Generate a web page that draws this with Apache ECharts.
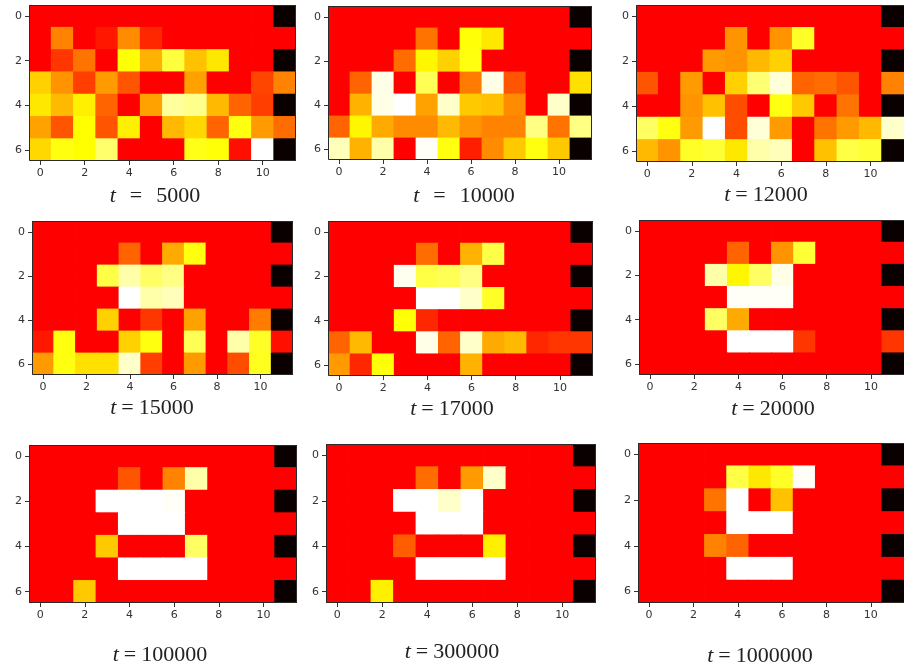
<!DOCTYPE html>
<html>
<head>
<meta charset="utf-8">
<script src="https://cdn.jsdelivr.net/npm/echarts@6/dist/echarts.min.js"></script>
<style>
  html, body { margin: 0; padding: 0; background: #fff; overflow: hidden; }
  #chart { width: 904px; height: 671px; }
</style>
</head>
<body>
<div id="chart"></div>
<script>
// Snapshots of a 7 x 12 lattice, values on a 0..1 "hot" scale
// (0 = black, ~0.33 = red, ~0.67 = yellow, 1 = white).
const steps = [5000, 10000, 12000, 15000, 17000, 20000, 100000, 300000, 1000000];
const rowLabels = ['0', '1', '2', '3', '4', '5', '6'];
const colLabels = ['0', '1', '2', '3', '4', '5', '6', '7', '8', '9', '10', '11'];

const t5000 = [
  [.33, .33, .33, .33, .33, .33, .33, .33, .33, .33, .33, 0],
  [.33, .50, .33, .36, .51, .38, .33, .33, .33, .33, .33, .33],
  [.33, .40, .48, .33, .67, .56, .74, .58, .63, .33, .33, 0],
  [.60, .52, .41, .53, .44, .33, .33, .54, .33, .33, .42, .50],
  [.63, .57, .64, .46, .33, .54, .86, .84, .57, .46, .41, 0],
  [.54, .44, .66, .44, .64, .33, .57, .61, .46, .68, .53, .47],
  [.61, .68, .66, .80, .33, .33, .33, .69, .67, .35, 1, 0]
];
const t10000 = [
  [.33, .33, .33, .33, .33, .33, .33, .33, .33, .33, .33, 0],
  [.33, .33, .33, .33, .48, .33, .67, .63, .33, .33, .33, .33],
  [.33, .33, .33, .47, .65, .60, .68, .33, .33, .33, .33, 0],
  [.33, .46, .96, .33, .77, .33, .49, .96, .44, .33, .33, .62],
  [.33, .56, .96, 1, .54, .92, .59, .58, .51, .33, .92, 0],
  [.46, .65, .55, .51, .51, .57, .52, .50, .50, .83, .48, .83],
  [.90, .56, .88, .33, .98, .68, .37, .51, .59, .68, .59, 0]
];
const t12000 = [
  [.33, .33, .33, .33, .33, .33, .33, .33, .33, .33, .33, 0],
  [.33, .33, .33, .33, .52, .33, .52, .71, .33, .33, .33, .33],
  [.33, .33, .33, .53, .52, .57, .60, .33, .33, .33, .33, 0],
  [.44, .33, .53, .33, .60, .81, .94, .46, .47, .44, .33, .50],
  [.33, .33, .52, .58, .43, .33, .68, .59, .33, .48, .33, 0],
  [.79, .68, .53, 1, .43, .94, .53, .33, .48, .53, .57, .92],
  [.57, .52, .71, .73, .63, .88, .90, .33, .58, .75, .73, 0]
];
const t15000 = [
  [.33, .33, .33, .33, .33, .33, .33, .33, .33, .33, .33, 0],
  [.33, .33, .33, .33, .46, .33, .55, .68, .33, .33, .33, .33],
  [.33, .33, .33, .75, .88, .79, .83, .33, .33, .33, .33, 0],
  [.33, .33, .33, .33, 1, .88, .90, .33, .33, .33, .33, .33],
  [.33, .33, .33, .60, .33, .40, .33, .54, .33, .33, .49, 0],
  [.36, .68, .33, .33, .60, .68, .33, .77, .33, .88, .71, .35],
  [.53, .68, .62, .62, .92, .41, .33, .53, .33, .43, .70, 0]
];
const t17000 = [
  [.33, .33, .33, .33, .33, .33, .33, .33, .33, .33, .33, 0],
  [.33, .33, .33, .33, .47, .33, .56, .75, .33, .33, .33, .33],
  [.33, .33, .33, .97, .75, .77, .83, .33, .33, .33, .33, 0],
  [.33, .33, .33, .33, 1, 1, .92, .71, .33, .33, .33, .33],
  [.33, .33, .33, .67, .38, .33, .33, .33, .33, .33, .33, 0],
  [.46, .57, .33, .33, .96, .46, .92, .55, .57, .38, .40, .40],
  [.53, .38, .67, .33, .33, .33, .56, .33, .33, .33, .33, 0]
];
const t20000 = [
  [.33, .33, .33, .33, .33, .33, .33, .33, .33, .33, .33, 0],
  [.33, .33, .33, .33, .46, .33, .52, .73, .33, .33, .33, .33],
  [.33, .33, .33, .88, .65, .79, .96, .33, .33, .33, .33, 0],
  [.33, .33, .33, .33, .98, .98, .98, .33, .33, .33, .33, .33],
  [.33, .33, .33, .79, .55, .33, .33, .33, .33, .33, .33, 0],
  [.33, .33, .33, .33, .99, .99, .99, .40, .33, .33, .33, .40],
  [.33, .33, .33, .33, .33, .33, .33, .33, .33, .33, .33, 0]
];
const t100000 = [
  [.33, .33, .33, .33, .33, .33, .33, .33, .33, .33, .33, 0],
  [.33, .33, .33, .33, .44, .33, .50, .88, .33, .33, .33, .33],
  [.33, .33, .33, 1, .99, 1, .98, .33, .33, .33, .33, 0],
  [.33, .33, .33, .33, 1, 1, 1, .33, .33, .33, .33, .33],
  [.33, .33, .33, .59, .33, .33, .33, .79, .33, .33, .33, 0],
  [.33, .33, .33, .33, 1, 1, 1, 1, .33, .33, .33, .33],
  [.33, .33, .59, .33, .33, .33, .33, .33, .33, .33, .33, 0]
];
const t300000 = [
  [.33, .33, .33, .33, .33, .33, .33, .33, .33, .33, .33, 0],
  [.33, .33, .33, .33, .47, .33, .53, .92, .33, .33, .33, .33],
  [.33, .33, .33, 1, 1, .92, 1, .33, .33, .33, .33, 0],
  [.33, .33, .33, .33, 1, 1, 1, .33, .33, .33, .33, .33],
  [.33, .33, .33, .45, .33, .33, .33, .64, .33, .33, .33, 0],
  [.33, .33, .33, .33, 1, 1, 1, 1, .33, .33, .33, .33],
  [.33, .33, .64, .33, .33, .33, .33, .33, .33, .33, .33, 0]
];
const t1000000 = [
  [.33, .33, .33, .33, .33, .33, .33, .33, .33, .33, .33, 0],
  [.33, .33, .33, .33, .75, .63, .71, .98, .33, .33, .33, .33],
  [.33, .33, .33, .48, 1, .33, .58, .33, .33, .33, .33, 0],
  [.33, .33, .33, .33, 1, 1, 1, .33, .33, .33, .33, .33],
  [.33, .33, .33, .50, .46, .33, .33, .33, .33, .33, .33, 0],
  [.33, .33, .33, .33, 1, 1, 1, .33, .33, .33, .33, .33],
  [.33, .33, .33, .33, .33, .33, .33, .33, .33, .33, .33, 0]
];

const snapshots = [t5000, t10000, t12000, t15000, t17000, t20000, t100000, t300000, t1000000];

// Panel placement: [left, top, width, height] of each image frame
const frames = [
  [29, 5, 267, 156],
  [328, 6, 264, 154],
  [636, 5, 269, 157],
  [32, 221, 261, 154],
  [328, 221, 265, 155],
  [639, 220, 266, 155],
  [29, 445, 268, 158],
  [326, 444, 270, 159],
  [638, 443, 272, 160]
];
// Caption centres and the spacing around "="
const captions = [
  [155, 196, 14], [464, 196, 14], [766, 195, 5],
  [152, 408, 5], [452, 409, 5], [773, 409, 5],
  [160, 655, 5], [452, 652, 5], [760, 656, 5]
];

function toCells(grid) {
  const out = [];
  grid.forEach((row, y) => row.forEach((v, x) => out.push([x, y, v])));
  return out;
}

// One image pixel: a rectangle filling its category band, slightly
// overlapping its neighbours so no anti-aliasing seams show.
function renderCell(params, api) {
  const c = api.coord([api.value(0), api.value(1)]);
  const s = api.size([1, 1]);
  return {
    type: 'rect',
    shape: { x: c[0] - s[0] / 2 - 0.4, y: c[1] - s[1] / 2 - 0.4, width: s[0] + 0.8, height: s[1] + 0.8 },
    style: { fill: api.visual('color'), stroke: null }
  };
}

const tickFont = { fontFamily: 'DejaVu Sans', fontSize: 11, color: '#333' };
const grids = [], xAxes = [], yAxes = [], series = [], graphics = [];

frames.forEach((f, i) => {
  grids.push({ left: f[0], top: f[1], width: f[2], height: f[3], containLabel: false });
  xAxes.push({
    type: 'category', gridIndex: i, data: colLabels, position: 'bottom',
    axisLine: { show: false },
    axisTick: { show: true, alignWithLabel: true, interval: 1, length: 4, lineStyle: { color: '#333', width: 1 } },
    axisLabel: Object.assign({ interval: 1, margin: 7 }, tickFont),
    splitLine: { show: false }
  });
  yAxes.push({
    type: 'category', gridIndex: i, data: rowLabels, inverse: true,
    axisLine: { show: false },
    axisTick: { show: true, alignWithLabel: true, interval: 1, length: 4, lineStyle: { color: '#333', width: 1 } },
    axisLabel: Object.assign({ interval: 1, margin: 7 }, tickFont),
    splitLine: { show: false }
  });
  series.push({
    type: 'custom', xAxisIndex: i, yAxisIndex: i,
    renderItem: renderCell, clip: true,
    encode: { x: 0, y: 1 },
    data: toCells(snapshots[i]),
    silent: true
  });
  // frame around each image
  graphics.push({
    type: 'rect', z: 100, silent: true,
    shape: { x: f[0] + 0.5, y: f[1] + 0.5, width: f[2] - 1, height: f[3] - 1 },
    style: { fill: null, stroke: '#2a2a2a', lineWidth: 1 }
  });
  const c = captions[i];
  graphics.push({
    type: 'text', z: 100, silent: true, x: c[0], y: c[1],
    style: {
      text: '{it|t}{eq|=}{n|' + steps[i] + '}',
      align: 'center', verticalAlign: 'middle',
      rich: {
        it: { fontFamily: 'Liberation Serif', fontStyle: 'italic', fontSize: 22, fill: '#222' },
        eq: { fontFamily: 'Liberation Serif', fontSize: 22, fill: '#222', padding: [0, c[2]] },
        n: { fontFamily: 'Liberation Serif', fontSize: 22, fill: '#222' }
      }
    }
  });
});

const chart = echarts.init(document.getElementById('chart'), null, { renderer: 'canvas' });
chart.setOption({
  backgroundColor: '#ffffff',
  animation: false,
  tooltip: { show: false },
  grid: grids,
  xAxis: xAxes,
  yAxis: yAxes,
  visualMap: {
    type: 'continuous', show: false, min: 0, max: 0.99, dimension: 2,
    seriesIndex: series.map((_, i) => i),
    inRange: { color: ['#0b0000', '#ff0000', '#ffff00', '#ffffff'] }
  },
  series: series,
  graphic: graphics
});
</script>
</body>
</html>
